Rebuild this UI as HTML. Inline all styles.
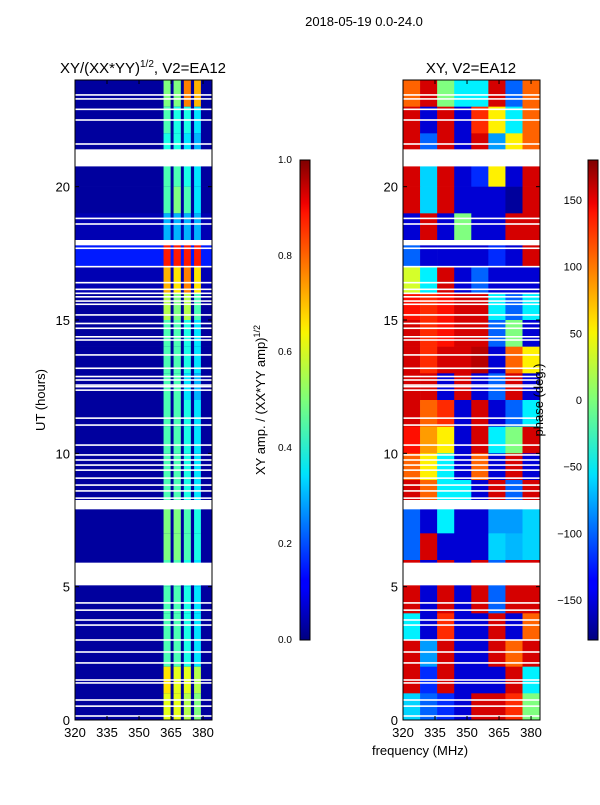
<!DOCTYPE html>
<html><head><meta charset="utf-8"><style>
body{margin:0;background:#fff;width:600px;height:800px;overflow:hidden}
svg text{font-family:"Liberation Sans","DejaVu Sans",sans-serif;fill:#000}
</style></head><body>
<svg id="s" width="600" height="800" xmlns="http://www.w3.org/2000/svg">
<defs>
<linearGradient id="jet" x1="0" y1="1" x2="0" y2="0">
<stop offset="0" stop-color="#00007f"/><stop offset="0.11" stop-color="#0000ff"/><stop offset="0.125" stop-color="#0000ff"/>
<stop offset="0.34" stop-color="#00dcff"/><stop offset="0.35" stop-color="#00e4f8"/><stop offset="0.5" stop-color="#7dff7a"/>
<stop offset="0.64" stop-color="#f8f500"/><stop offset="0.66" stop-color="#ffe400"/><stop offset="0.89" stop-color="#ff1300"/>
<stop offset="0.91" stop-color="#f00000"/><stop offset="1" stop-color="#7f0000"/></linearGradient>
</defs>
<text x="364" y="26" font-size="13" text-anchor="middle">2018-05-19 0.0-24.0</text>
<text x="143" y="73" font-size="15" text-anchor="middle">XY/(XX*YY)<tspan font-size="10" dy="-6">1/2</tspan><tspan dy="6">, V2=EA12</tspan></text>
<text x="471" y="73" font-size="15" text-anchor="middle">XY, V2=EA12</text>
<g id="amp"></g>
<g id="ph"></g>
<g id="axes"></g>
<rect x="300" y="160" width="10" height="480" fill="url(#jet)" stroke="#000" stroke-width="1"/>
<rect x="588" y="160" width="10" height="480" fill="url(#jet)" stroke="#000" stroke-width="1"/>
<text transform="translate(45,400) rotate(-90)" font-size="13" text-anchor="middle">UT (hours)</text>
<text transform="translate(265,400) rotate(-90)" font-size="13" text-anchor="middle">XY amp. / (XX*YY amp)<tspan font-size="9" dy="-5">1/2</tspan></text>
<text transform="translate(543,400) rotate(-90)" font-size="13" text-anchor="middle">phase (deg.)</text>
<text x="420" y="755" font-size="13" text-anchor="middle">frequency (MHz)</text>
</svg>
<script>
const hours=[23,22,21,20,19,18,17,16,15,14,13,12,11,10,9,8,7,6,5,4,3,2,1,0];
const freqBins=[320,328,336,344,352,360,368,376];
const phaseValues=[
[100,150,0,-50,-50,150,-100,100],
[150,-150,150,-150,120,50,-50,100],
[150,-100,150,-150,150,-80,50,100],
[150,-60,150,-150,-120,50,-150,150],
[150,-60,150,-150,-150,-150,-170,150],
[-150,150,-150,0,-150,-150,150,150],
[-100,-150,-150,-150,-150,-120,-150,150],
[30,-50,150,-150,-100,-150,-150,-150],
[130,120,130,150,150,-50,-100,-50],
[150,120,130,150,150,-100,0,-150],
[150,120,150,150,160,-150,100,50],
[150,150,-150,150,-150,-100,150,-150],
[150,100,120,-150,150,-150,-100,-50],
[130,80,50,-150,150,-50,0,150],
[100,50,-50,-150,100,-150,150,-150],
[150,100,-50,-50,-150,150,-100,150],
[-100,-150,-50,-150,-150,-80,-80,-60],
[-100,150,-150,-150,-150,-60,-70,-60],
[150,-150,150,-150,150,-100,150,150],
[150,-150,150,-150,150,-100,150,150],
[-50,-150,120,-150,-150,150,-150,100],
[150,-80,150,-150,-150,150,100,150],
[150,-120,150,-150,-150,-150,150,-50],
[-60,-100,-120,-150,150,150,120,0]];
const ampBandLo=[361.5,366.2,371,375.8];
const ampBandHi=[364.8,369.6,374.3,379];
const ampBackground=[0.03,0.03,0.03,0.03,0.03,0.05,0.15,0.05,0.03,0.03,0.03,0.03,0.03,0.03,0.03,0.03,0.03,0.03,0.03,0.03,0.03,0.03,0.03,0.03];
const ampValues=[
[0.5,0.5,0.75,0.7],[0.45,0.4,0.4,0.35],[0.4,0.4,0.35,0.3],[0.45,0.45,0.4,0.35],
[0.45,0.5,0.45,0.35],[0.3,0.3,0.3,0.3],[0.85,0.85,0.85,0.85],[0.7,0.65,0.75,0.65],
[0.55,0.5,0.55,0.45],[0.45,0.45,0.4,0.35],[0.45,0.45,0.4,0.35],[0.45,0.45,0.35,0.3],
[0.45,0.45,0.4,0.35],[0.45,0.45,0.4,0.35],[0.45,0.45,0.4,0.35],[0.45,0.45,0.4,0.35],
[0.5,0.5,0.45,0.4],[0.5,0.5,0.45,0.4],[0.45,0.45,0.4,0.35],[0.45,0.45,0.4,0.35],
[0.45,0.45,0.4,0.35],[0.45,0.45,0.4,0.35],[0.65,0.6,0.6,0.55],[0.6,0.6,0.55,0.5]];
const bigGaps=[[20.8,21.4],[17.8,18.0],[7.9,8.25],[5.05,5.9]];
const thinGaps=[23.44,23.29,22.9,22.5,21.6,20.79,18.81,18.6,17.69,17.0,16.4,16.15,16.0,15.87,15.71,15.59,15.19,14.87,14.69,14.37,14.25,13.69,13.19,12.88,12.75,12.56,12.5,12.37,11.32,11.06,10.31,9.94,9.75,9.56,9.37,9.07,8.81,8.59,8.32,4.39,4.12,3.75,3.56,3.0,2.55,2.14,1.5,1.39,0.75,0.52,0.15];
const xTicks=[320,335,350,365,380];
const yTicks=[0,5,10,15,20];
const ampTicks=[0.0,0.2,0.4,0.6,0.8,1.0];
const phaseTicks=[-150,-100,-50,0,50,100,150];

const NS='http://www.w3.org/2000/svg';
const fMin=320,fMax=384.2,Y0=720,Y1=80;
function yS(h){return Y0-(h/24)*(Y0-Y1);}
function xL(f){return 75+(f-fMin)/(fMax-fMin)*137;}
function xR(f){return 403+(f-fMin)/(fMax-fMin)*137;}
function jet(v){v=Math.max(0,Math.min(1,v));
 const c=t=>Math.round(255*Math.max(0,Math.min(1,t)));
 return `rgb(${c(1.5-Math.abs(4*v-3))},${c(1.5-Math.abs(4*v-2))},${c(1.5-Math.abs(4*v-1))})`;}
function mk(tag,attrs,parent){const e=document.createElementNS(NS,tag);for(const k in attrs)e.setAttribute(k,attrs[k]);parent.appendChild(e);return e;}
const amp=document.getElementById('amp'),ph=document.getElementById('ph'),ax=document.getElementById('axes');
hours.forEach((h,i)=>{
 const y=yS(h+1),hh=yS(h)-yS(h+1);
 let r=mk('rect',{x:75,y:y,width:137,height:hh+0.3,fill:jet(ampBackground[i])},amp);
 
 
 ampValues[i].forEach((v,j)=>{
  let c=mk('rect',{x:xL(ampBandLo[j]),y:y,width:xL(ampBandHi[j])-xL(ampBandLo[j]),height:hh+0.3,fill:jet(v)},amp);
  
  
 });
 phaseValues[i].forEach((v,j)=>{
  const f0=freqBins[j],f1=j<freqBins.length-1?freqBins[j+1]:fMax;
  let c=mk('rect',{x:xR(f0),y:y,width:xR(f1)-xR(f0)+0.3,height:hh+0.3,fill:jet((v+180)/360)},ph);
  
  
 });
});
[[75,137],[403,137]].forEach(([x0,w])=>{
 bigGaps.forEach(g=>{let r=mk('rect',{x:x0,y:yS(g[1]),width:w,height:yS(g[0])-yS(g[1]),fill:'#fff'},ax);
  
  });
 thinGaps.forEach(g=>{let r=mk('rect',{x:x0,y:yS(g)-0.8,width:w,height:1.6,fill:'#fff'},ax);
  
  });
});
[[75,xL],[403,xR]].forEach(([x0,xs],pi)=>{
 let fr=mk('rect',{x:x0,y:80,width:137,height:640,fill:'none',stroke:'#000','stroke-width':1},ax);
 
 
 xTicks.forEach(t=>{const x=xs(t);
  mk('line',{x1:x,x2:x,y1:720,y2:716,stroke:'#000'},ax);mk('line',{x1:x,x2:x,y1:80,y2:84,stroke:'#000'},ax);
  let tx=mk('text',{x:x,y:737,'font-size':13,'text-anchor':'middle'},ax);tx.textContent=t;
  
  });
 yTicks.forEach(t=>{const y=yS(t);
  mk('line',{x1:x0,x2:x0+4,y1:y,y2:y,stroke:'#000'},ax);mk('line',{x1:x0+137,x2:x0+133,y1:y,y2:y,stroke:'#000'},ax);
  let tx=mk('text',{x:x0-5,y:y+5,'font-size':13,'text-anchor':'end'},ax);tx.textContent=t;
  
  });
});
ampTicks.forEach(t=>{const y=640-t*480;
 mk('line',{x1:306,x2:310,y1:y,y2:y,stroke:'#000'},ax);
 let tx=mk('text',{x:278,y:y+3,'font-size':10},ax);tx.textContent=t.toFixed(1);
 
 });
phaseTicks.forEach(t=>{const y=640-(t+180)/360*480;
 mk('line',{x1:594,x2:598,y1:y,y2:y,stroke:'#000'},ax);
 let tx=mk('text',{x:582,y:y+4,'font-size':11,'text-anchor':'end'},ax);tx.textContent=(t<0?'\u2212'+(-t):t);
 
 });
</script>
</body></html>
